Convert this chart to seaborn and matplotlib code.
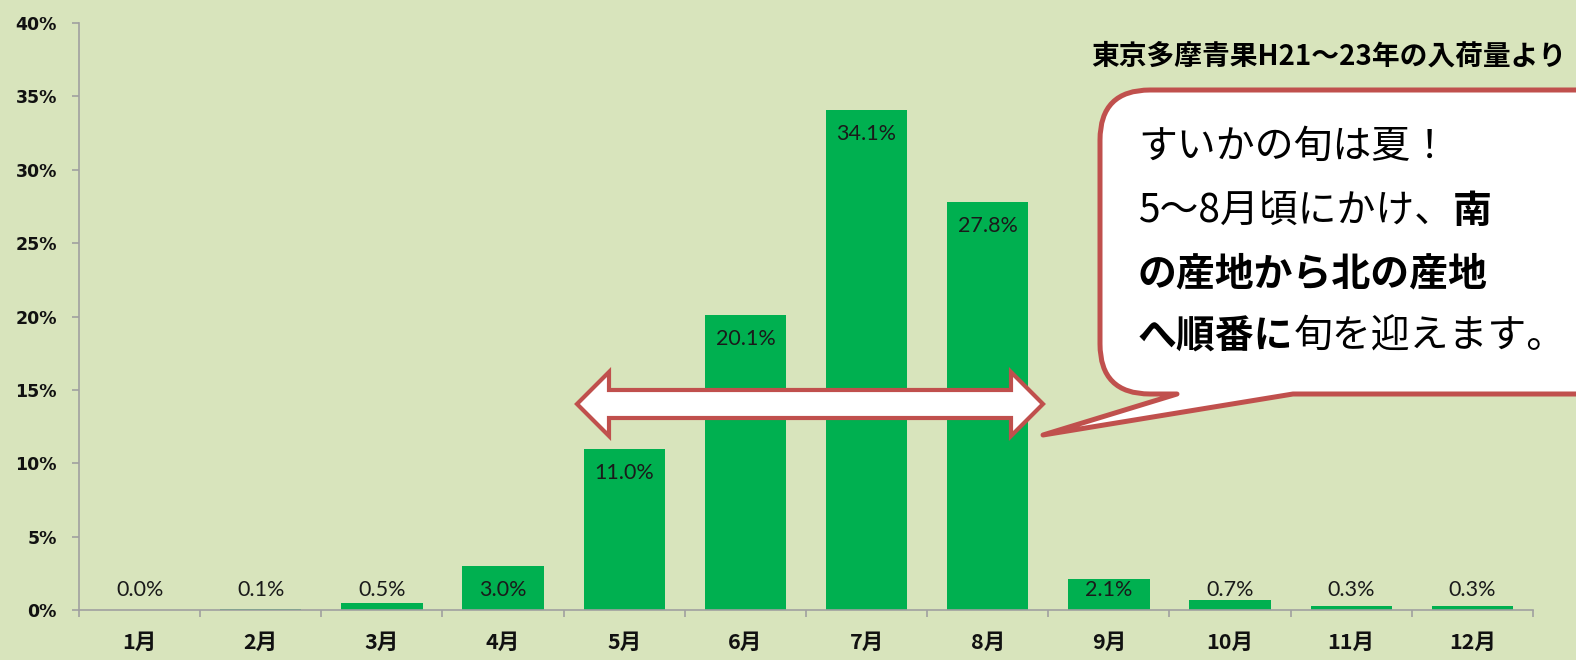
import matplotlib
matplotlib.use("Agg")
import matplotlib.pyplot as plt
import seaborn as sns
import numpy as np
import pandas as pd
from matplotlib.path import Path
from matplotlib.patches import PathPatch, Polygon
from matplotlib.ticker import PercentFormatter

# data
months = ["1月", "2月", "3月", "4月", "5月", "6月", "7月", "8月", "9月", "10月", "11月", "12月"]
shares = [0.0, 0.1, 0.5, 3.0, 11.0, 20.1, 34.1, 27.8, 2.1, 0.7, 0.3, 0.3]
y_ticks = [0, 5, 10, 15, 20, 25, 30, 35, 40]
source_note = "東京多摩青果H21～23年の入荷量より"
bubble_runs = [
    [("すいかの旬は夏！", "normal")],
    [("5～8月頃にかけ、", "normal"), ("南", "bold")],
    [("の産地から北の産地", "bold")],
    [("へ順番に", "bold"), ("旬を迎えます。", "normal")],
]

BG = "#D8E4BC"
GREEN = "#00B050"
RED = "#C0504D"
AXIS = "#A0A0A0"

sns.set_style("white")
plt.rcParams["font.family"] = ["Noto Sans CJK JP", "DejaVu Sans"]

W, H = 1576, 660
fig = plt.figure(figsize=(W / 100, H / 100), dpi=100, facecolor=BG)
ax = fig.add_axes([79 / W, 50 / H, (1533 - 79) / W, (610 - 23) / H])
ax.set_facecolor(BG)

df = pd.DataFrame({"month": months, "share": shares})
sns.barplot(data=df, x="month", y="share", color=GREEN, saturation=1,
            width=0.67, linewidth=0, ax=ax)

ax.set_xlim(-0.5, 11.5)
ax.set_ylim(0, 40)
ax.set_yticks(y_ticks)
ax.yaxis.set_major_formatter(PercentFormatter(decimals=0))
ax.set_xlabel("")
ax.set_ylabel("")
for s in ["top", "right"]:
    ax.spines[s].set_visible(False)
for s in ["left", "bottom"]:
    ax.spines[s].set_color(AXIS)
    ax.spines[s].set_linewidth(1.2)

ax.tick_params(axis="y", left=True, length=5, width=1.2, color=AXIS, direction="out", pad=11)
ax.set_xticks(np.arange(-0.5, 12, 1), minor=True)
ax.tick_params(axis="x", which="minor", bottom=True, length=5, width=1.2, color=AXIS, direction="out")
ax.tick_params(axis="x", which="major", length=0, pad=16)
plt.setp(ax.get_yticklabels(), fontfamily="DejaVu Sans", fontweight="bold", fontsize=12.5, color="#111111")
plt.setp(ax.get_xticklabels(), fontweight="bold", fontsize=15.5, color="#111111")

# value labels just inside the bar top, never lower than a small floor
label_y = np.maximum(np.array(shares) - 1.64, 1.36)
for i, (v, y) in enumerate(zip(shares, label_y)):
    ax.text(i, y, f"{v:.1f}%", ha="center", va="center", fontfamily="Lato",
            fontsize=15.5, color="#1a1a1a")


def fp(x, y):
    return (x / W, 1 - y / H)


# double-headed arrow over May-August
arrow_px = [(577, 404), (609, 372), (609, 390), (1011, 390), (1011, 372), (1043, 404),
            (1011, 436), (1011, 418), (609, 418), (609, 436)]
arrow = Polygon([fp(x, y) for x, y in arrow_px], closed=True, transform=fig.transFigure,
                facecolor="white", edgecolor=RED, lw=3, joinstyle="miter", zorder=5)
fig.add_artist(arrow)

# speech bubble
x0, x1, y0, y1, r = 1100, 1640, 90, 394, 50
verts = [(x0 + r, y0), (x1 - r, y0), (x1, y0), (x1, y0 + r), (x1, y1 - r),
         (x1, y1), (x1 - r, y1), (1293, y1), (1043, 435), (1177, y1), (x0 + r, y1),
         (x0, y1), (x0, y1 - r), (x0, y0 + r), (x0, y0), (x0 + r, y0), (x0 + r, y0)]
codes = [Path.MOVETO, Path.LINETO, Path.CURVE3, Path.CURVE3, Path.LINETO,
         Path.CURVE3, Path.CURVE3, Path.LINETO, Path.LINETO, Path.LINETO, Path.LINETO,
         Path.CURVE3, Path.CURVE3, Path.LINETO, Path.CURVE3, Path.CURVE3, Path.CLOSEPOLY]
bubble = PathPatch(Path([fp(x, y) for x, y in verts], codes), transform=fig.transFigure,
                   facecolor="white", edgecolor=RED, lw=3.6, joinstyle="round", zorder=5)
fig.add_artist(bubble)

fig.canvas.draw()
renderer = fig.canvas.get_renderer()
line_y = [147, 211, 274, 337]
for runs, yy in zip(bubble_runs, line_y):
    xx = 1138
    for txt, weight in runs:
        t = fig.text(xx / W, 1 - yy / H, txt, fontsize=28, fontweight=weight,
                     ha="left", va="center", color="black", zorder=7)
        xx = t.get_window_extent(renderer=renderer).x1

fig.text(1566 / W, 1 - 57 / H, source_note, ha="right", va="center",
         fontsize=20, fontweight="bold", color="black")

fig.savefig("out.png", dpi=100, facecolor=BG)
